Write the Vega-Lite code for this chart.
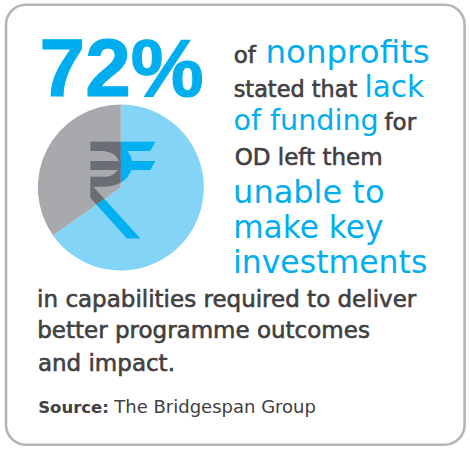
{
  "$schema": "https://vega.github.io/schema/vega-lite/v6.json",
  "width": 470,
  "height": 451,
  "autosize": "none",
  "padding": 0,
  "background": "#ffffff",
  "config": {"view": {"stroke": null}, "axis": {"disable": true}},
  "resolve": {"scale": {"color": "independent", "shape": "independent"}},
  "layer": [
    {
      "data": {"values": [{"panel": "card"}]},
      "mark": {"type": "rect", "filled": false, "color": "#b5b5b5", "strokeWidth": 2.6, "cornerRadius": 20},
      "encoding": {
        "x": {"datum": 6, "scale": {"domain": [0, 470], "nice": false, "zero": false}},
        "x2": {"datum": 464.6},
        "y": {"datum": 4.7, "scale": {"domain": [0, 451], "nice": false, "zero": false, "reverse": true}},
        "y2": {"datum": 444.7}
      }
    },
    {
      "data": {"values": [
        {"share": "lacked funding", "percent": 65.2, "rank": 1},
        {"share": "other", "percent": 34.8, "rank": 2}
      ]},
      "mark": {"type": "arc", "outerRadius": 83},
      "encoding": {
        "x": {"datum": 120.8},
        "y": {"datum": 187.5},
        "theta": {"field": "percent", "type": "quantitative", "stack": true},
        "order": {"field": "rank", "type": "quantitative"},
        "color": {"field": "share", "type": "nominal", "scale": {"domain": ["lacked funding", "other"], "range": ["#84d4f7", "#a7a9ad"]}, "legend": null}
      }
    },
    {
      "data": {"values": [
        {"piece": "top-left", "tone": "dark"},
        {"piece": "top-right", "tone": "bright"},
        {"piece": "mid-left", "tone": "dark"},
        {"piece": "mid-right", "tone": "bright"},
        {"piece": "bowl-left", "tone": "dark"},
        {"piece": "bowl-right", "tone": "bright"},
        {"piece": "leg-upper", "tone": "dark"},
        {"piece": "leg-lower", "tone": "bright"}
      ]},
      "mark": {"type": "point", "filled": true, "opacity": 1, "size": 4, "strokeWidth": 0},
      "encoding": {
        "x": {"datum": 120.8},
        "y": {"datum": 187.5},
        "shape": {"field": "piece", "type": "nominal", "legend": null, "scale": {
          "domain": ["top-left", "top-right", "mid-left", "mid-right", "bowl-left", "bowl-right", "leg-upper", "leg-lower"],
          "range": [
            "M -30.5 -45.8 L 0 -45.8 L 0 -36.5 L -30.5 -36.5 Z",
            "M 0 -45.8 L 34.5 -45.8 L 29.5 -36.5 L 0 -36.5 Z",
            "M -30.5 -26.5 L 0 -26.5 L 0 -17.5 L -30.5 -17.5 Z",
            "M 0 -26.5 L 34.5 -26.5 L 29.5 -17.5 L 0 -17.5 Z",
            "M -30.5 -0.8 L -15.5 -0.8 A 27 22.5 0 0 0 0 -4.9 L 0 -41.7 A 27 22.5 0 0 0 -15.5 -45.8 L -15.5 -35.8 A 14 12.5 0 0 1 -15.5 -10.8 L -30.5 -10.8 Z",
            "M 0 -41.7 A 27 22.5 0 0 1 0 -4.9 Z",
            "M -30.5 -0.8 L -27.6 -0.8 L -16.4 11.6 L -24.3 17.2 L -30.5 10.2 Z",
            "M -16.4 11.6 L 19.5 51 L 6.2 51 L -24.3 17.2 Z"
          ]}},
        "color": {"field": "tone", "type": "nominal", "legend": null, "scale": {"domain": ["dark", "bright"], "range": ["#6b6d75", "#00b0f0"]}}
      }
    },
    {
      "data": {"values": [{"text": "72%"}]},
      "mark": {"type": "text", "align": "left", "baseline": "alphabetic", "font": "Liberation Sans", "fontWeight": "bold", "fontSize": 82, "color": "#00aeef", "stroke": "#00aeef", "strokeWidth": 1.2},
      "encoding": {"x": {"datum": 39.6}, "y": {"datum": 95.7}, "text": {"field": "text"}}
    },
    {
      "data": {"values": [{"text": "of"}]},
      "mark": {"type": "text", "align": "left", "baseline": "alphabetic", "font": "DejaVu Sans", "fontSize": 23, "color": "#414042", "stroke": "#414042", "strokeWidth": 0.6},
      "encoding": {"x": {"datum": 233.7}, "y": {"datum": 63.3}, "text": {"field": "text"}}
    },
    {
      "data": {"values": [{"text": "nonprofits"}]},
      "mark": {"type": "text", "align": "left", "baseline": "alphabetic", "font": "DejaVu Sans", "fontSize": 32.5, "color": "#00aeef"},
      "encoding": {"x": {"datum": 265.4}, "y": {"datum": 63.3}, "text": {"field": "text"}}
    },
    {
      "data": {"values": [{"text": "stated that"}]},
      "mark": {"type": "text", "align": "left", "baseline": "alphabetic", "font": "DejaVu Sans", "fontSize": 22.4, "color": "#414042", "stroke": "#414042", "strokeWidth": 0.6},
      "encoding": {"x": {"datum": 233.7}, "y": {"datum": 96.7}, "text": {"field": "text"}}
    },
    {
      "data": {"values": [{"text": "lack"}]},
      "mark": {"type": "text", "align": "left", "baseline": "alphabetic", "font": "DejaVu Sans", "fontSize": 29.5, "color": "#00aeef"},
      "encoding": {"x": {"datum": 364.5}, "y": {"datum": 96.7}, "text": {"field": "text"}}
    },
    {
      "data": {"values": [{"text": "of funding"}]},
      "mark": {"type": "text", "align": "left", "baseline": "alphabetic", "font": "DejaVu Sans", "fontSize": 28.6, "color": "#00aeef"},
      "encoding": {"x": {"datum": 233.4}, "y": {"datum": 130}, "text": {"field": "text"}}
    },
    {
      "data": {"values": [{"text": "for"}]},
      "mark": {"type": "text", "align": "left", "baseline": "alphabetic", "font": "DejaVu Sans", "fontSize": 23, "color": "#414042", "stroke": "#414042", "strokeWidth": 0.6},
      "encoding": {"x": {"datum": 384.5}, "y": {"datum": 130}, "text": {"field": "text"}}
    },
    {
      "data": {"values": [{"text": "OD left them"}]},
      "mark": {"type": "text", "align": "left", "baseline": "alphabetic", "font": "DejaVu Sans", "fontSize": 23, "color": "#414042", "stroke": "#414042", "strokeWidth": 0.6},
      "encoding": {"x": {"datum": 234.7}, "y": {"datum": 165}, "text": {"field": "text"}}
    },
    {
      "data": {"values": [{"text": "unable to"}]},
      "mark": {"type": "text", "align": "left", "baseline": "alphabetic", "font": "DejaVu Sans", "fontSize": 32, "color": "#00aeef"},
      "encoding": {"x": {"datum": 233.1}, "y": {"datum": 202.5}, "text": {"field": "text"}}
    },
    {
      "data": {"values": [{"text": "make key"}]},
      "mark": {"type": "text", "align": "left", "baseline": "alphabetic", "font": "DejaVu Sans", "fontSize": 31.2, "color": "#00aeef"},
      "encoding": {"x": {"datum": 233.2}, "y": {"datum": 238.3}, "text": {"field": "text"}}
    },
    {
      "data": {"values": [{"text": "investments"}]},
      "mark": {"type": "text", "align": "left", "baseline": "alphabetic", "font": "DejaVu Sans", "fontSize": 31.5, "color": "#00aeef"},
      "encoding": {"x": {"datum": 233}, "y": {"datum": 273.3}, "text": {"field": "text"}}
    },
    {
      "data": {"values": [{"text": "in capabilities required to deliver"}]},
      "mark": {"type": "text", "align": "left", "baseline": "alphabetic", "font": "DejaVu Sans", "fontSize": 23, "color": "#414042", "stroke": "#414042", "strokeWidth": 0.6},
      "encoding": {"x": {"datum": 37.1}, "y": {"datum": 306.7}, "text": {"field": "text"}}
    },
    {
      "data": {"values": [{"text": "better programme outcomes"}]},
      "mark": {"type": "text", "align": "left", "baseline": "alphabetic", "font": "DejaVu Sans", "fontSize": 23, "color": "#414042", "stroke": "#414042", "strokeWidth": 0.6},
      "encoding": {"x": {"datum": 37.2}, "y": {"datum": 338.3}, "text": {"field": "text"}}
    },
    {
      "data": {"values": [{"text": "and impact."}]},
      "mark": {"type": "text", "align": "left", "baseline": "alphabetic", "font": "DejaVu Sans", "fontSize": 23, "color": "#414042", "stroke": "#414042", "strokeWidth": 0.6},
      "encoding": {"x": {"datum": 37.9}, "y": {"datum": 370.7}, "text": {"field": "text"}}
    },
    {
      "data": {"values": [{"text": "Source:"}]},
      "mark": {"type": "text", "align": "left", "baseline": "alphabetic", "font": "DejaVu Sans", "fontWeight": "bold", "fontSize": 16.5, "color": "#414042"},
      "encoding": {"x": {"datum": 38.2}, "y": {"datum": 413.3}, "text": {"field": "text"}}
    },
    {
      "data": {"values": [{"text": "The Bridgespan Group"}]},
      "mark": {"type": "text", "align": "left", "baseline": "alphabetic", "font": "DejaVu Sans", "fontSize": 18, "color": "#414042"},
      "encoding": {"x": {"datum": 114.3}, "y": {"datum": 413.3}, "text": {"field": "text"}}
    }
  ]
}
